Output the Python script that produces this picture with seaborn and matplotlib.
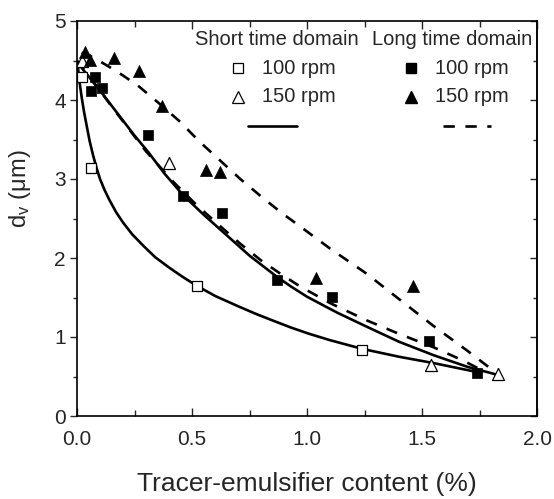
import numpy as np
import pandas as pd
import matplotlib
matplotlib.use('Agg')
import matplotlib.pyplot as plt
from matplotlib.ticker import MultipleLocator
import seaborn as sns

# measured points
short_x_100 = [0.02, 0.06, 0.52, 1.24]
short_y_100 = [4.29, 3.14, 1.64, 0.84]
short_x_150 = [0.02, 0.40, 1.54, 1.83]
short_y_150 = [4.50, 3.20, 0.65, 0.53]
long_x_100 = [0.06, 0.08, 0.11, 0.31, 0.46, 0.63, 0.87, 1.11, 1.53, 1.74]
long_y_100 = [4.12, 4.29, 4.15, 3.56, 2.78, 2.57, 1.72, 1.51, 0.95, 0.55]
long_x_150 = [0.035, 0.057, 0.16, 0.27, 0.37, 0.56, 0.62, 1.04, 1.46]
long_y_150 = [4.61, 4.51, 4.53, 4.37, 3.92, 3.11, 3.09, 1.75, 1.65]

# fitted curves
fit_short_100_x = [0.003, 0.01, 0.02, 0.03, 0.043, 0.055, 0.07, 0.085, 0.1, 0.12, 0.14, 0.17,
                   0.2, 0.24, 0.29, 0.34, 0.4, 0.46, 0.52, 0.6, 0.7, 0.78, 0.85, 0.93, 1.01,
                   1.1, 1.24, 1.4, 1.55, 1.65, 1.75]
fit_short_100_y = [4.45, 4.25, 4.04, 3.86, 3.66, 3.48, 3.30, 3.14, 3.00, 2.86, 2.74, 2.58,
                   2.45, 2.30, 2.15, 2.01, 1.88, 1.76, 1.65, 1.52, 1.39, 1.29, 1.21, 1.12, 1.04,
                   0.96, 0.85, 0.75, 0.67, 0.61, 0.55]
fit_short_150_x = [0.0, 0.05, 0.1, 0.15, 0.2, 0.25, 0.31, 0.38, 0.46, 0.55, 0.65, 0.75, 0.87,
                   0.93, 1.0, 1.13, 1.26, 1.4, 1.55, 1.7, 1.83]
fit_short_150_y = [4.48, 4.30, 4.12, 3.93, 3.74, 3.55, 3.34, 3.07, 2.80, 2.55, 2.29, 2.03, 1.76,
                   1.64, 1.51, 1.31, 1.13, 0.94, 0.77, 0.62, 0.52]
fit_long_100_x = [0.0, 0.05, 0.1, 0.15, 0.2, 0.3, 0.42, 0.52, 0.62, 0.71, 0.80, 0.89, 0.97,
                  1.1, 1.26, 1.4, 1.55, 1.68, 1.78]
fit_long_100_y = [4.50, 4.31, 4.12, 3.92, 3.73, 3.35, 2.96, 2.67, 2.41, 2.18, 1.97, 1.79, 1.64,
                  1.43, 1.21, 1.04, 0.87, 0.70, 0.55]
fit_long_150_x = [0.02, 0.07, 0.14, 0.2, 0.27, 0.36, 0.45, 0.53, 0.62, 0.71, 0.80, 0.89, 0.97,
                  1.1, 1.26, 1.4, 1.55, 1.7, 1.83]
fit_long_150_y = [4.60, 4.54, 4.42, 4.31, 4.17, 3.95, 3.72, 3.48, 3.24, 3.00, 2.78, 2.57, 2.40,
                  2.12, 1.80, 1.48, 1.14, 0.82, 0.53]

sns.set_style('ticks')
plt.rcParams['font.family'] = ['Liberation Sans', 'DejaVu Sans']
plt.rcParams['mathtext.fontset'] = 'custom'
plt.rcParams['mathtext.rm'] = 'Liberation Sans'
plt.rcParams['mathtext.it'] = 'Liberation Sans'

fig = plt.figure(figsize=(5.54, 4.99), dpi=100)
ax = fig.add_axes([77 / 554, 1 - 416 / 499, 460 / 554, 395 / 499])

solid = dict(color='black', linewidth=1.9)
dashed = dict(color='black', linewidth=1.9, linestyle=(0, (4.3, 4.0)))

sns.lineplot(x=fit_short_100_x, y=fit_short_100_y, sort=False, ax=ax, **solid)
sns.lineplot(x=fit_short_150_x, y=fit_short_150_y, sort=False, ax=ax, **solid)
sns.lineplot(x=fit_long_100_x, y=fit_long_100_y, sort=False, ax=ax, **dashed)
sns.lineplot(x=fit_long_150_x, y=fit_long_150_y, sort=False, ax=ax, **dashed)

sns.scatterplot(x=short_x_100, y=short_y_100, marker='s', s=44, facecolor='white',
                edgecolor='black', linewidth=0.9, ax=ax, zorder=3)
sns.scatterplot(x=short_x_150, y=short_y_150, marker='^', s=75, facecolor='white',
                edgecolor='black', linewidth=0.9, ax=ax, zorder=3)
sns.scatterplot(x=long_x_100, y=long_y_100, marker='s', s=50, color='black',
                edgecolor='black', linewidth=0.5, ax=ax, zorder=3)
sns.scatterplot(x=long_x_150, y=long_y_150, marker='^', s=75, color='black',
                edgecolor='black', linewidth=0.5, ax=ax, zorder=3)

ax.set_xlim(0, 2.0)
ax.set_ylim(0, 5)
ax.xaxis.set_major_locator(MultipleLocator(0.5))
ax.xaxis.set_minor_locator(MultipleLocator(0.25))
ax.yaxis.set_major_locator(MultipleLocator(1))
ax.yaxis.set_minor_locator(MultipleLocator(0.5))
ax.set_xticklabels([f'{v:.1f}' for v in ax.get_xticks()])

for s in ax.spines.values():
    s.set_visible(True)
    s.set_linewidth(1.2)
    s.set_color('black')

ax.tick_params(axis='x', which='both', direction='in', top=True, bottom=True,
               labelsize=15, pad=10, width=1.0)
ax.tick_params(axis='x', which='major', length=6)
ax.tick_params(axis='x', which='minor', length=4)
ax.tick_params(axis='y', which='both', direction='out', left=True, right=False,
               labelsize=15, pad=3, width=1.0)
ax.tick_params(axis='y', which='major', length=5)
ax.tick_params(axis='y', which='minor', length=3)

sec = ax.secondary_yaxis('right')
sec.yaxis.set_major_locator(MultipleLocator(1))
sec.yaxis.set_minor_locator(MultipleLocator(0.5))
sec.tick_params(axis='y', which='both', direction='in', labelright=False, width=1.0)
sec.tick_params(axis='y', which='major', length=5)
sec.tick_params(axis='y', which='minor', length=3)
sec.spines['right'].set_linewidth(1.2)

ax.set_xlabel('Tracer-emulsifier content (%)', fontsize=19)
ax.xaxis.set_label_coords(0.5, -0.142)
ax.set_ylabel('d$_\\mathregular{v}$ (\u03bcm)', fontsize=17)
ax.yaxis.set_label_coords(-0.095, 0.575)

# legend drawn by hand
tr = ax.transAxes
ax.text(0.434, 0.952, 'Short time domain', transform=tr, ha='center', va='center', fontsize=14.5)
ax.text(0.816, 0.952, 'Long time domain', transform=tr, ha='center', va='center', fontsize=14.5)
ax.plot([0.35], [0.881], 's', ms=6.6, mfc='white', mec='black', mew=0.9, transform=tr)
ax.plot([0.35], [0.808], '^', ms=8.6, mfc='white', mec='black', mew=0.9, transform=tr)
ax.plot([0.372, 0.478], [0.734, 0.734], transform=tr, **solid)
ax.plot([0.726], [0.881], 's', ms=6.6, color='black', transform=tr)
ax.plot([0.726], [0.808], '^', ms=8.6, color='black', transform=tr)
ax.plot([0.796, 0.9], [0.734, 0.734], transform=tr, **dashed)
ax.text(0.402, 0.881, '100 rpm', transform=tr, ha='left', va='center', fontsize=14.5)
ax.text(0.402, 0.808, '150 rpm', transform=tr, ha='left', va='center', fontsize=14.5)
ax.text(0.778, 0.881, '100 rpm', transform=tr, ha='left', va='center', fontsize=14.5)
ax.text(0.778, 0.808, '150 rpm', transform=tr, ha='left', va='center', fontsize=14.5)

fig.savefig('out.png', dpi=100)
